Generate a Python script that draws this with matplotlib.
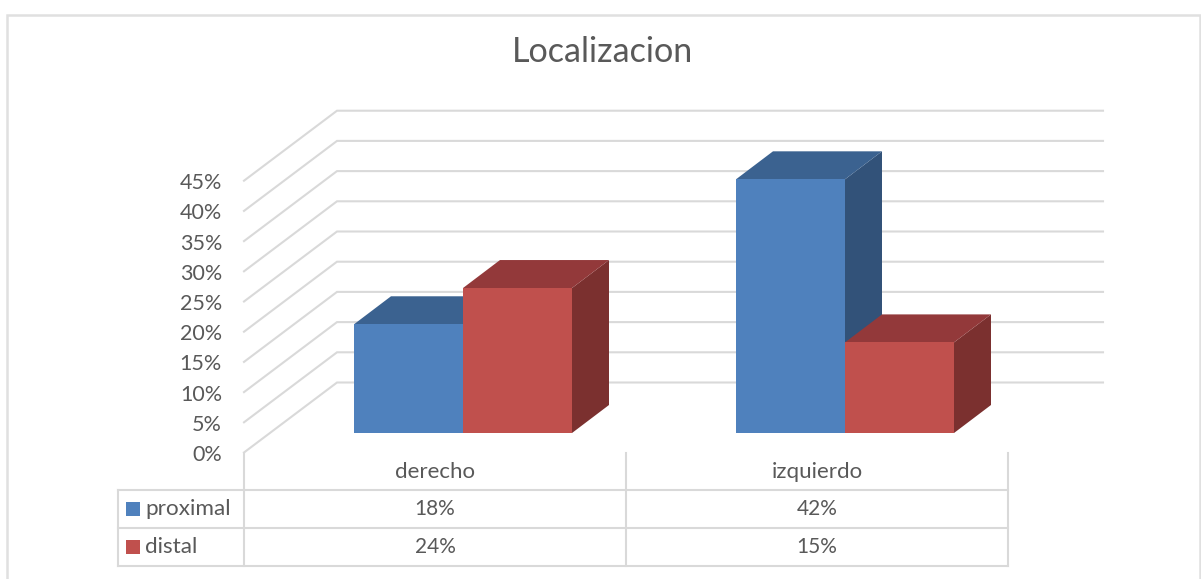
import matplotlib
matplotlib.use("Agg")
import matplotlib.pyplot as plt
from matplotlib.patches import Polygon, Rectangle

categories = ["derecho", "izquierdo"]
series_names = ["proximal", "distal"]
proximal = [18, 42]
distal = [24, 15]
y_ticks = [0, 5, 10, 15, 20, 25, 30, 35, 40, 45]
title = "Localizacion"

W, H = 1201, 579
PX_PER_PCT = 6.04
CAT_W = 382.0
X0 = 244.0
Y0 = 452.5

plt.rcParams["font.family"] = ["Lato", "DejaVu Sans"]
fig = plt.figure(figsize=(W / 100, H / 100), dpi=100)
ax = fig.add_axes([0, 0, 1, 1])
# x in category units (0 = left edge of first category), y in percent
ax.set_xlim((0 - X0) / CAT_W, (W - X0) / CAT_W)
ax.set_ylim((Y0 - H) / PX_PER_PCT, Y0 / PX_PER_PCT)
ax.axis("off")

def ux(px):  # pixel width to x units
    return px / CAT_W
def uy(px):  # pixel height to y units
    return px / PX_PER_PCT

GRID = "#d9d9d9"
TXT = "#595959"
LW = 1.5
DX, DY = ux(93), uy(70)
GX1 = ux(1103 - X0)

# frame (open at the bottom edge of the image)
ax.add_patch(Rectangle((ux(6.5 - X0), uy(Y0 - 590)), ux(1193.5), uy(575),
                       fill=False, ec="#e0e0e0", lw=1.8, zorder=1))
# walls / gridlines
for v in y_ticks:
    ax.plot([0, DX, GX1], [v, v + DY, v + DY], color=GRID, lw=LW, zorder=2,
            solid_joinstyle="miter")
    ax.text(ux(-22), v - uy(2.5), f"{v}%", ha="right", va="center", fontsize=15.5, color=TXT)

# bars
BAR_W = ux(109)
BDX, BDY = ux(37), uy(28)
BASE = uy(19.5)
colors = {"proximal": ("#4f81bd", "#3b6290", "#325279"),
          "distal": ("#c0504d", "#93393a", "#7b302f")}
def bar3d(x, v, name):
    front, top, side = colors[name]
    y0, y1 = BASE, BASE + v
    ax.add_patch(Polygon([(x + BAR_W, y0), (x + BAR_W + BDX, y0 + BDY),
                          (x + BAR_W + BDX, y1 + BDY), (x + BAR_W, y1)],
                         fc=side, ec="none", zorder=4))
    ax.add_patch(Polygon([(x, y1), (x + BDX, y1 + BDY),
                          (x + BAR_W + BDX, y1 + BDY), (x + BAR_W, y1)],
                         fc=top, ec="none", zorder=4))
    ax.add_patch(Rectangle((x, y0), BAR_W, v, fc=front, ec="none", zorder=5))

for i in range(len(categories)):
    start = i + ux(110)
    bar3d(start, proximal[i], "proximal")
    bar3d(start + BAR_W, distal[i], "distal")

# data table
ROW = uy(38)
hdr_top = 0
t0 = -uy(490 - Y0)
t1 = t0 - ROW
t2 = t1 - ROW
LEFT = ux(118 - X0)
for x in [0, 1, 2]:
    ax.plot([x, x], [hdr_top, t2], color=GRID, lw=LW, zorder=2)
for y in [t0, t1, t2]:
    ax.plot([LEFT, 2], [y, y], color=GRID, lw=LW, zorder=2)
ax.plot([LEFT, LEFT], [t0, t2], color=GRID, lw=LW, zorder=2)
for i, c in enumerate(categories):
    ax.text(i + 0.5, t0 + ROW / 2 - uy(1), c, ha="center", va="center", fontsize=16, color=TXT)
    ax.text(i + 0.5, t1 + ROW / 2, f"{proximal[i]}%", ha="center", va="center", fontsize=15, color=TXT)
    ax.text(i + 0.5, t2 + ROW / 2, f"{distal[i]}%", ha="center", va="center", fontsize=15, color=TXT)
for r, (name, y) in enumerate(zip(series_names, [t1, t2])):
    ax.add_patch(Rectangle((ux(126 - X0), y + ROW / 2 - uy(7)), ux(14), uy(14),
                           fc=colors[name][0], ec="none", zorder=5))
    ax.text(ux(145.5 - X0), y + ROW / 2, name, ha="left", va="center", fontsize=16.2, color=TXT)

ax.text(ux(603 - X0), uy(Y0 - 52), title, ha="center", va="center", fontsize=24.6, color=TXT)

fig.savefig("out.png", dpi=100)
